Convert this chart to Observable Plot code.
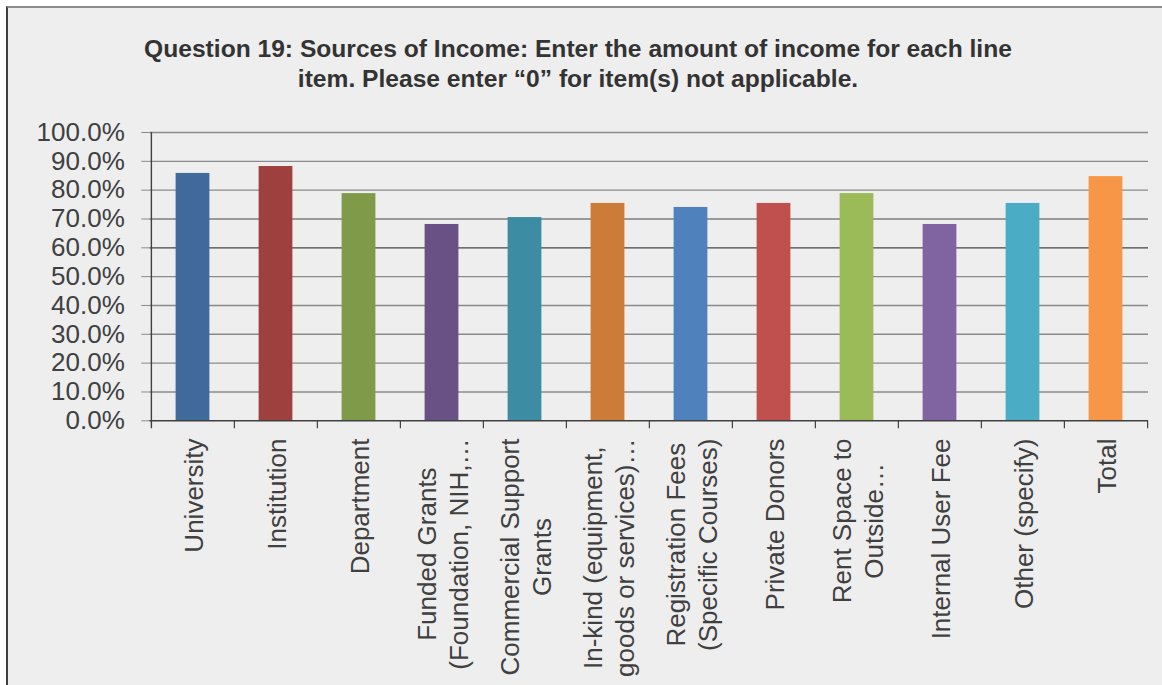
<!DOCTYPE html>
<html>
<head>
<meta charset="utf-8">
<script src="https://cdn.jsdelivr.net/npm/d3@7"></script>
<script src="https://cdn.jsdelivr.net/npm/@observablehq/plot@0.6"></script>
<style>
  html, body { margin: 0; padding: 0; background: #ffffff; overflow: hidden; }
  #frame {
    position: absolute; left: 6px; top: 6px; width: 1156px; height: 679px;
    box-sizing: border-box; background: #eeeeee;
    border-top: 2px solid #8c8c8c; border-left: 2px solid #404040;
  }
  #title {
    box-sizing: border-box; height: 86px; padding-top: 26px; padding-right: 14px;
    font-family: 'Liberation Sans', Arial, sans-serif; font-weight: bold;
    font-size: 24.6px; line-height: 30px; color: #333333; text-align: center;
    white-space: nowrap;
  }
  #chart svg { display: block; }
</style>
</head>
<body>
<div id="frame">
  <div id="title">Question 19: Sources of Income: Enter the amount of income for each line<br>item. Please enter “0” for item(s) not applicable.</div>
  <div id="chart"></div>
</div>
<script>
const categories = [
  "University",
  "Institution",
  "Department",
  "Funded Grants\n(Foundation, NIH,…",
  "Commercial Support\nGrants",
  "In-kind (equipment,\ngoods or services)…",
  "Registration Fees\n(Specific Courses)",
  "Private Donors",
  "Rent Space to\nOutside…",
  "Internal User Fee",
  "Other (specify)",
  "Total"
];
const values = [0.858, 0.882, 0.788, 0.681, 0.705, 0.754, 0.740, 0.754, 0.788, 0.681, 0.754, 0.847];
const colors = ["#406a9b", "#9e413e", "#7f9a48", "#695186", "#3c8da3", "#cc7b38",
                "#4f81bd", "#c0504d", "#9bbb59", "#8064a2", "#4bacc6", "#f79646"];
const yTicks = [0, 0.1, 0.2, 0.3, 0.4, 0.5, 0.6, 0.7, 0.8, 0.9, 1.0];
const darkGrid = [0.6, 0.7];

const data = categories.map((c, i) => ({category: c, value: values[i], color: colors[i]}));

const width = 1154, height = 591;
const marginLeft = 141.3, marginRight = 14, marginTop = 38, marginBottom = 264.7;
const step = (width - marginLeft - marginRight) / categories.length;
const frameH = height - marginTop - marginBottom;
const barW = 34;
const font = "'Liberation Sans', Arial, sans-serif";
const labelSize = 26;

// measure label lines to top-align centered multi-line labels
const ctx = document.createElement("canvas").getContext("2d");
ctx.font = `${labelSize}px 'Liberation Sans', Arial, sans-serif`;
const maxLineW = c => Math.max(...c.split("\n").map(l => ctx.measureText(l).width));

const labelMarks = categories.map(c => Plot.text([c], {
  x: d => d,
  frameAnchor: "bottom",
  rotate: -90,
  textAnchor: "middle",
  lineAnchor: "middle",
  lineHeight: 1.22,
  dy: 17.7 + maxLineW(c) / 2,
  fill: "#404040",
  fontSize: labelSize
}));

const chart = Plot.plot({
  width, height, marginLeft, marginRight, marginTop, marginBottom,
  style: {fontFamily: font, fontSize: "26px", background: "transparent", color: "#404040"},
  x: {domain: categories, padding: 0, axis: null},
  y: {domain: [0, 1]},
  color: {type: "identity"},
  marks: [
    Plot.ruleY(yTicks.filter(t => t > 0 && !darkGrid.includes(t)), {stroke: "#8a8a8a", strokeWidth: 1.4}),
    Plot.ruleY(darkGrid, {stroke: "#444444", strokeWidth: 1.2}),
    Plot.axisY({
      ticks: yTicks, tickFormat: d3.format(".1%"), tickSize: 8, tickPadding: 17,
      stroke: "#8a8a8a", fill: "#404040", fontSize: 26, label: null
    }),
    Plot.barY(data, {
      x: "category", y: "value", fill: "color",
      insetLeft: (step - barW) / 2, insetRight: (step - barW) / 2
    }),
    Plot.ruleY([0], {stroke: "#404040", strokeWidth: 1.4}),
    Plot.ruleX([categories[0]], {x: d => d, dx: -step / 2, stroke: "#404040", strokeWidth: 1.4, insetBottom: -8}),
    Plot.ruleX(categories.slice(1), {x: d => d, dx: -step / 2, stroke: "#404040", strokeWidth: 1.2, insetTop: frameH, insetBottom: -8}),
    Plot.ruleX([categories[categories.length - 1]], {x: d => d, dx: step / 2, stroke: "#404040", strokeWidth: 1.2, insetTop: frameH, insetBottom: -8}),
    ...labelMarks
  ]
});
document.getElementById("chart").appendChild(chart);
</script>
</body>
</html>
